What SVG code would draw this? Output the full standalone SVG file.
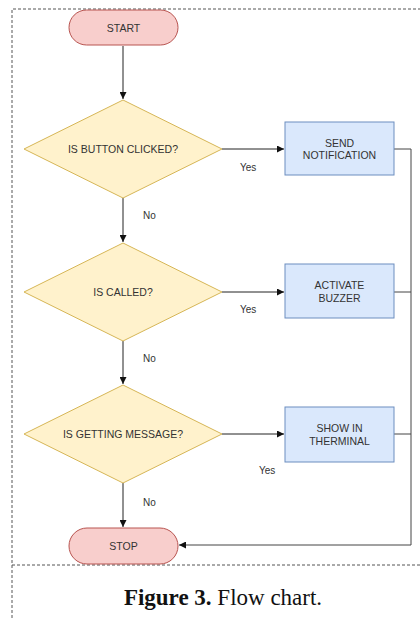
<svg xmlns="http://www.w3.org/2000/svg" width="420" height="618" viewBox="0 0 420 618">
<defs>
<style>
.term{fill:#f8cecc;stroke:#b85450;stroke-width:1}
.dec{fill:#fff2cc;stroke:#d6b656;stroke-width:1}
.proc{fill:#dae8fc;stroke:#6c8ebf;stroke-width:1}
.t{font-family:"Liberation Sans",Arial,sans-serif;font-size:10.5px;fill:#333;text-anchor:middle}
.lbl{font-family:"Liberation Sans",Arial,sans-serif;font-size:10px;fill:#333}
.c{fill:none;stroke:#222;stroke-width:1}
.frame{fill:none;stroke:#555;stroke-width:1;stroke-dasharray:3,2}
</style>
<marker id="arr" viewBox="0 0 10 10" refX="10" refY="5" markerWidth="7" markerHeight="7" orient="auto" markerUnits="userSpaceOnUse">
<path d="M0,0 L10,5 L0,10 z" fill="#111"/>
</marker>
</defs>
<rect width="420" height="618" fill="#fff"/>
<g id="frame">
<path class="frame" d="M12,618 V9 H420"/>
<path class="frame" d="M12,565 H420"/>
</g>
<g id="connectors">
<path class="c" d="M123,46 V99" marker-end="url(#arr)"/>
<path class="c" d="M222,149 H284" marker-end="url(#arr)"/>
<path class="c" d="M123,198 V242" marker-end="url(#arr)"/>
<path class="c" d="M222,292 H284" marker-end="url(#arr)"/>
<path class="c" d="M123,341 V384" marker-end="url(#arr)"/>
<path class="c" d="M222,434 H284" marker-end="url(#arr)"/>
<path class="c" d="M123,483 V527" marker-end="url(#arr)"/>
<path class="c" d="M394,149 H411 V545 H179" marker-end="url(#arr)" style="stroke:#444"/>
<path class="c" d="M394,292 H411" style="stroke:#444"/>
<path class="c" d="M394,434 H411" style="stroke:#444"/>
<text class="lbl" x="240" y="171">Yes</text>
<text class="lbl" x="240" y="313">Yes</text>
<text class="lbl" x="259" y="474">Yes</text>
<text class="lbl" x="143" y="219">No</text>
<text class="lbl" x="143" y="362">No</text>
<text class="lbl" x="143" y="506">No</text>
</g>
<g id="start">
<rect class="term" x="69" y="10" width="109" height="35" rx="17.5"/>
<text class="t" x="123.5" y="32">START</text>
</g>
<g id="d1">
<polygon class="dec" points="123,100 222,149 123,198 24,149"/>
<text class="t" x="123" y="153">IS BUTTON CLICKED?</text>
</g>
<g id="p1">
<rect class="proc" x="285" y="122" width="109" height="53"/>
<text class="t" x="339.5" y="147">SEND</text>
<text class="t" x="339.5" y="159">NOTIFICATION</text>
</g>
<g id="d2">
<polygon class="dec" points="123,243 222,292 123,341 24,292"/>
<text class="t" x="123" y="296">IS CALLED?</text>
</g>
<g id="p2">
<rect class="proc" x="285" y="264" width="109" height="54"/>
<text class="t" x="339.5" y="289">ACTIVATE</text>
<text class="t" x="339.5" y="302">BUZZER</text>
</g>
<g id="d3">
<polygon class="dec" points="123,385 222,434 123,483 24,434"/>
<text class="t" x="123" y="438">IS GETTING MESSAGE?</text>
</g>
<g id="p3">
<rect class="proc" x="285" y="407" width="109" height="55"/>
<text class="t" x="339.5" y="432">SHOW IN</text>
<text class="t" x="339.5" y="445">THERMINAL</text>
</g>
<g id="stop">
<rect class="term" x="69" y="528" width="109" height="36" rx="18"/>
<text class="t" x="123.5" y="550">STOP</text>
</g>
<text x="223" y="605" style="font-family:'Liberation Serif','Times New Roman',serif;font-size:23px;fill:#111;text-anchor:middle"><tspan font-weight="bold">Figure 3.</tspan> Flow chart.</text>
</svg>
